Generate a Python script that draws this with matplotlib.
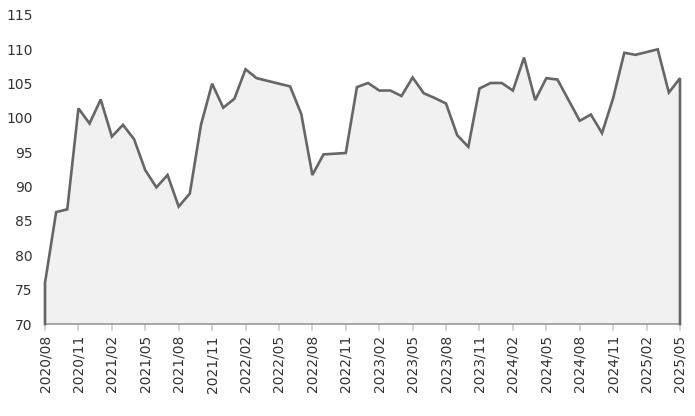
import numpy as np
import matplotlib.pyplot as plt

# monthly index values, 2020/08 .. 2025/05
values = [76.0, 86.3, 86.7, 101.4, 99.2, 102.7, 97.3, 99.0, 96.9, 92.4,
          89.9, 91.7, 87.1, 89.0, 99.0, 105.0, 101.5, 102.8, 107.1, 105.8,
          105.4, 105.0, 104.6, 100.6, 91.7, 94.7, 94.8, 94.9, 104.5, 105.1,
          104.0, 104.0, 103.2, 105.9, 103.6, 102.9, 102.1, 97.5, 95.8, 104.3,
          105.1, 105.1, 104.0, 108.8, 102.6, 105.8, 105.6, 102.6, 99.6, 100.5,
          97.8, 102.9, 109.5, 109.2, 109.6, 110.0, 103.7, 105.8]
tick_labels = ['2020/08', '2020/11', '2021/02', '2021/05', '2021/08', '2021/11',
               '2022/02', '2022/05', '2022/08', '2022/11', '2023/02', '2023/05',
               '2023/08', '2023/11', '2024/02', '2024/05', '2024/08', '2024/11',
               '2025/02', '2025/05']
y_ticks = [70, 75, 80, 85, 90, 95, 100, 105, 110, 115]

ymin, ymax = 70, 115
x = np.arange(len(values))

fig = plt.figure(figsize=(6.95, 4.16), dpi=100)
ax = fig.add_axes([45/695, 92/416, 635/695, 309/416])

ax.fill_between(x, values, ymin, facecolor='#f1f1f1', edgecolor='none')
# outline incl. vertical edges at both ends
ox = np.concatenate([[x[0]], x, [x[-1]]])
oy = np.concatenate([[ymin], values, [ymin]])
ax.plot(ox, oy, color='#666666', lw=1.9, solid_joinstyle='miter', clip_on=False, zorder=3)

ax.set_xlim(0, len(values) - 1)
ax.set_ylim(ymin, ymax)
ax.set_xticks(x[::3])
ax.set_xticklabels(tick_labels, rotation=90, fontsize=10, color='#333333')
ax.set_yticks(y_ticks)
ax.set_yticklabels([str(v) for v in y_ticks], fontsize=10, color='#333333')

for s in ['top', 'right', 'left']:
    ax.spines[s].set_visible(False)
ax.spines['bottom'].set_color('#999999')
ax.spines['bottom'].set_linewidth(1.2)
ax.tick_params(axis='x', length=5, width=1.2, color='#cccccc', pad=3)
ax.tick_params(axis='y', length=0, pad=9)

fig.savefig('out.png', dpi=100)
